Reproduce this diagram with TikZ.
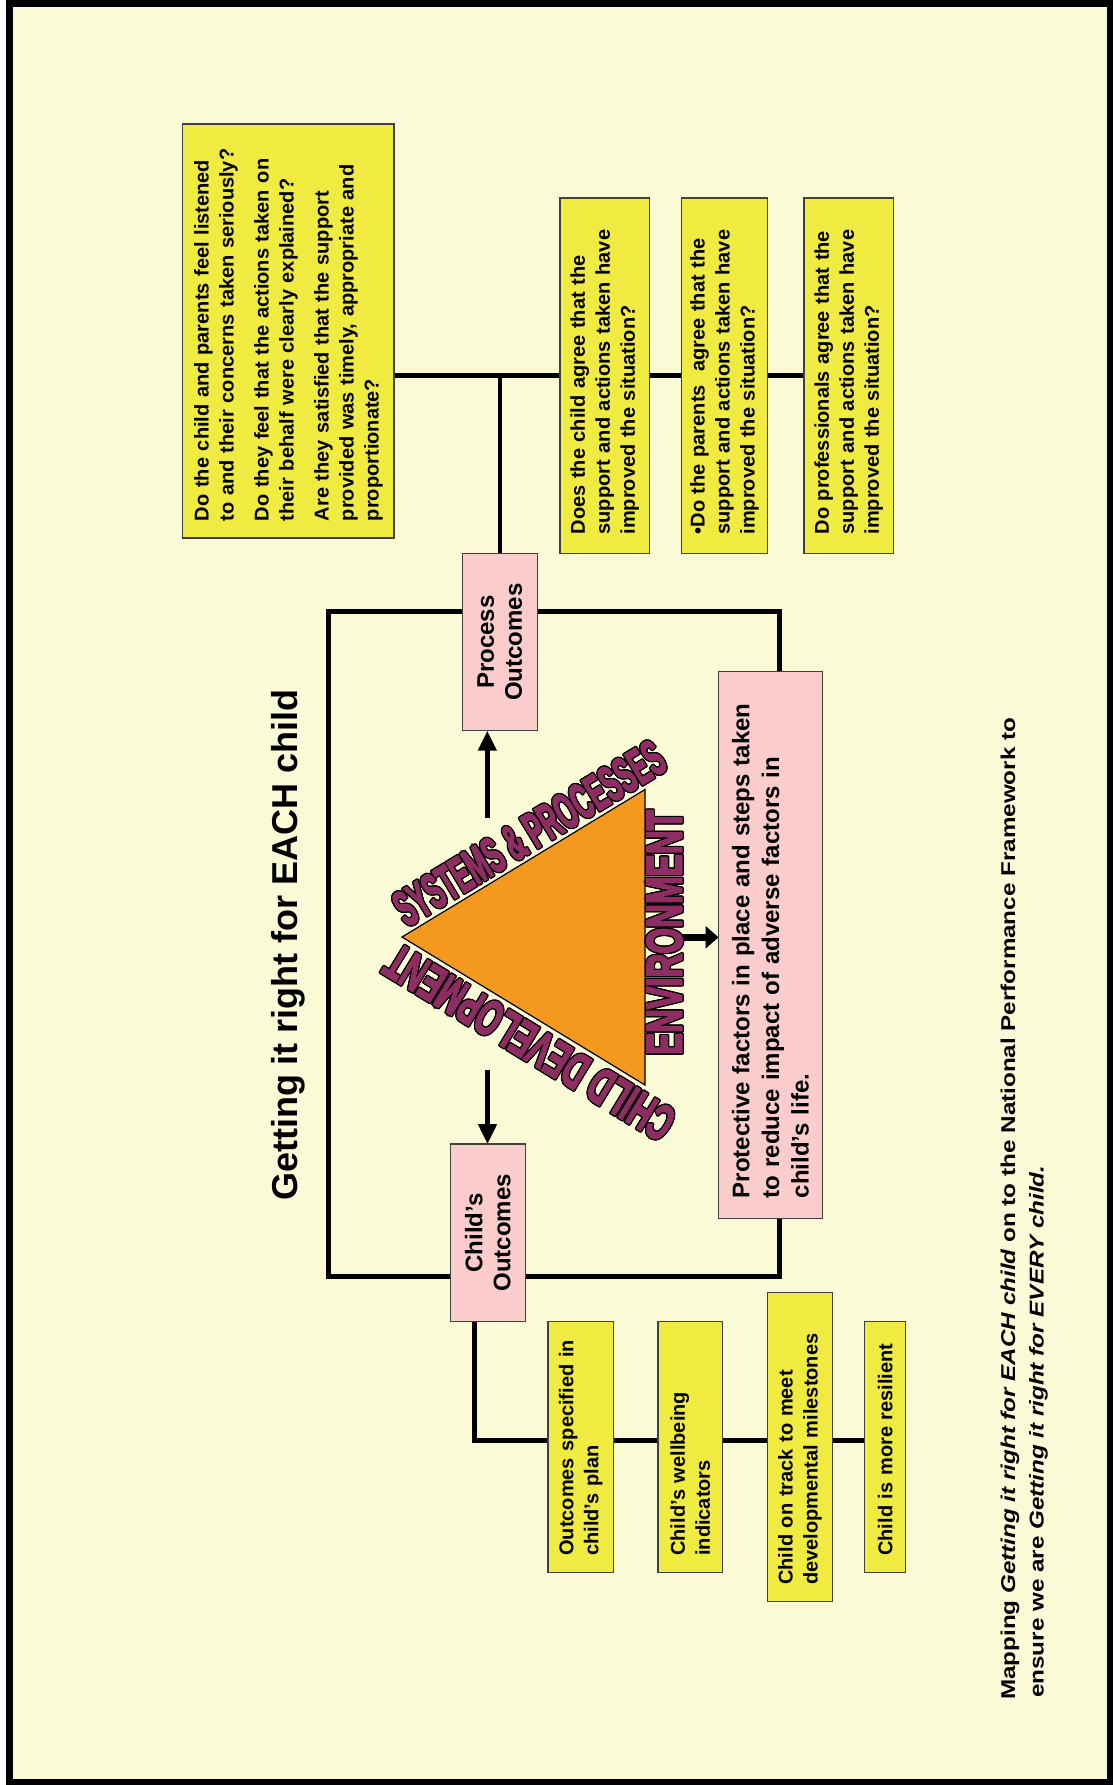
\documentclass[tikz,border=0pt]{standalone}
\usepackage{fontspec}
\usepackage{graphicx}
\usepackage{contour}
\setmainfont{Liberation Sans}
\newfontfamily\footf{Liberation Sans}[FakeStretch=1.21]
\newfontfamily\waf{Liberation Sans}[BoldFeatures={FakeBold=4}]
\contourlength{1.2pt}
\usetikzlibrary{arrows.meta}
\definecolor{bgc}{RGB}{250,250,215}
\definecolor{yel}{RGB}{240,235,65}
\definecolor{pnk}{RGB}{250,204,204}
\definecolor{orng}{RGB}{245,152,30}
\definecolor{purp}{RGB}{142,45,98}
\pgfdeclarelayer{bgfill}
\pgfdeclarelayer{lines}
\pgfsetlayers{bgfill,lines,main}
\newcommand\wordart[2]{\contour{black}{\scalebox{#1}[1]{#2}}}
\tikzset{
  box/.style={rotate=90, draw=black!75, line width=1.2pt, inner ysep=0pt, outer sep=0pt},
  ybox/.style={box, fill=yel, font=\fontsize{20}{25}\selectfont\bfseries, align=left},
  pbox/.style={box, fill=pnk, font=\fontsize{24}{28}\selectfont\bfseries, align=center},
  conn/.style={line width=5pt},
  arr/.style={line width=4.5pt, -{Triangle[width=18pt,length=20pt]}},
  blk/.style={line width=7pt, -{Triangle[width=22pt,length=13pt]}},
  wa/.style={inner sep=0pt, text=purp, font=\waf\bfseries\fontsize{50}{50}\selectfont},
}
\begin{document}
\begin{tikzpicture}[x=1pt,y=1pt]
\begin{pgfonlayer}{bgfill}
\fill[white] (0,0) rectangle (1113,-1785);
\draw[line width=6.5pt, fill=bgc] (9.25,-3.75) rectangle (1109.75,-1781.75);
\end{pgfonlayer}
\useasboundingbox (0,0) rectangle (1113,-1785);

% title
\node[rotate=90, anchor=base, inner sep=0pt, font=\fontsize{36}{40}\selectfont\bfseries] (title) at (297.4,-945) {Getting it right for EACH child};

% top question boxes
\node[ybox, text width=380pt, inner xsep=17pt, minimum height=211.3pt] (q0) at (288.4,-331)
  {Do the child and parents feel listened\\to and their concerns taken seriously?\\[10pt]Do they feel that the actions taken on\\their behalf were clearly explained?\\[10pt]Are they satisfied that the support\\provided was timely, appropriate and\\proportionate?};
\node[ybox, text width=317.3pt, inner xsep=19pt, minimum height=89.3pt] (q1) at (604.7,-375.7)
  {Does the child agree that the\\support and actions taken have\\improved the situation?};
\node[ybox, text width=317.3pt, inner xsep=19pt, minimum height=85.6pt] (q2) at (724.5,-375.7)
  {•Do the parents\ \ agree that the\\support and actions taken have\\improved the situation?};
\node[ybox, text width=317.3pt, inner xsep=19pt, minimum height=89.3pt] (q3) at (848.7,-375.7)
  {Do professionals agree that the\\support and actions taken have\\improved the situation?};

% pink boxes
\node[pbox, minimum width=177.4pt, minimum height=75pt] (p) at (499.8,-642) {Process\\Outcomes};
\node[pbox, minimum width=177.7pt, minimum height=75.1pt] (c) at (487.9,-1232.9) {Child’s\\Outcomes};
\node[box, fill=pnk, font=\fontsize{24}{29.6}\selectfont\bfseries, align=left, text width=506.6pt, inner xsep=20pt, minimum height=104pt] (r) at (770.5,-945)
  {Protective factors in place and steps taken\\to reduce impact of adverse factors in\\child’s life.};

% bottom boxes
\node[ybox, text width=217pt, inner xsep=17pt, minimum height=65.2pt] (b1) at (580.6,-1447.2)
  {Outcomes specified in\\child’s plan};
\node[ybox, text width=217pt, inner xsep=17pt, minimum height=64.4pt] (b2) at (690.1,-1447.2)
  {Child’s wellbeing\\indicators};
\node[ybox, text width=275.4pt, inner xsep=17pt, minimum height=65.2pt] (b3) at (800,-1447)
  {Child on track to meet\\developmental milestones};
\node[ybox, text width=217pt, inner xsep=17pt, minimum height=41.2pt] (b4) at (885.2,-1447.2)
  {Child is more resilient};

% triangle
\draw[fill=orng, line width=1.2pt] (402,-937) coordinate (apex) -- (645,-789.5) coordinate (tv) -- (645,-1085) coordinate (bv) -- cycle;
\node[wa, rotate=31.26] (sys) at (529.5,-833.5) {\wordart{0.5}{SYSTEMS \& PROCESSES}};
\node[wa, rotate=90] (env) at (665,-932.5) {\wordart{0.663}{ENVIRONMENT}};
\node[wa, rotate=148.65] (dev) at (530,-1042) {\wordart{0.6}{CHILD DEVELOPMENT}};

% footer
\node[rotate=90, anchor=base west, inner sep=0pt, font=\footf\fontsize{20}{24}\selectfont\bfseries] (foot1) at (1015,-1700)
  {Mapping \textit{Getting it right for EACH child} on to the National Performance Framework to};
\node[rotate=90, anchor=base west, inner sep=0pt, font=\footf\fontsize{20}{24}\selectfont\bfseries] (foot2) at (1043.5,-1698)
  {ensure we are \textit{Getting it right for EVERY child.}};

\begin{pgfonlayer}{lines}
\draw[conn] (q0.south |- q1.north) -- (q1.north);
\draw[conn] (q1.south) -- (q2.north);
\draw[conn] (q2.south) -- (q3.north);
\draw[line width=4.5pt] (p.east) -- (p.east |- q1.north);
\coordinate (lt) at (328.5,-611.7);
\coordinate (rt) at (779.3,-611.7);
\coordinate (lb) at (328.5,-1276.7);
\coordinate (rb) at (779.3,-1276.7);
\draw[conn] (rt |- r.east) -- (rt) -- (lt) -- (lb) -- (rb) -- (rb |- r.west);
\coordinate (aup) at (487.3,-818);
\draw[arr] (aup) -- (aup |- p.west);
\coordinate (adn) at (487.5,-1070);
\draw[arr] (adn) -- (adn |- c.east);
\coordinate (art) at (681.7,-937.3);
\draw[blk] (art) -- (art -| r.north);
\coordinate (sp) at (474,-1440);
\draw[conn] (c.west -| sp) -- (sp) -- (sp -| b1.north);
\draw[conn] (b1.south |- sp) -- (b2.north |- sp);
\draw[conn] (b2.south |- sp) -- (b3.north |- sp);
\draw[conn] (b3.south |- sp) -- (b4.north |- sp);
\end{pgfonlayer}
\end{tikzpicture}
\end{document}
